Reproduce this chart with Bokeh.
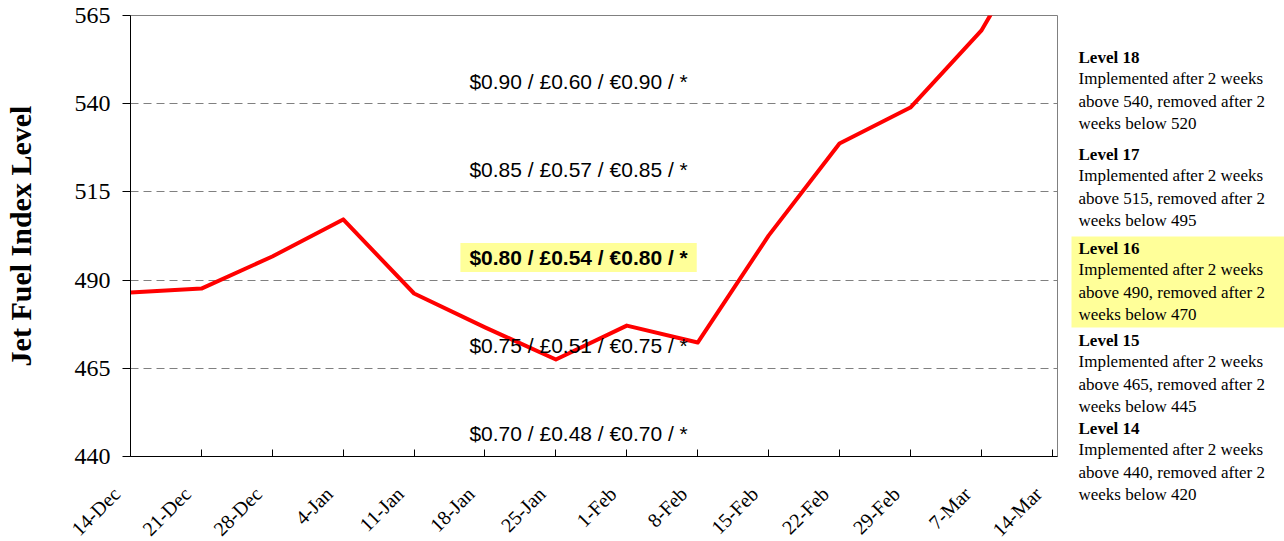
import math
from bokeh.plotting import figure
from bokeh.models import Range1d, FixedTicker, Label
from bokeh.layouts import row, column
from bokeh.core.properties import value
from bokeh.embed import file_html
from bokeh.resources import INLINE

# ---------------- data ----------------
weeks = ["14-Dec", "21-Dec", "28-Dec", "4-Jan", "11-Jan", "18-Jan", "25-Jan",
         "1-Feb", "8-Feb", "15-Feb", "22-Feb", "29-Feb", "7-Mar", "14-Mar"]
index_level = [486.5, 487.6, 496.7, 507.2, 486.2, 476.6, 467.5,
               477.1, 472.3, 502.6, 528.7, 538.9, 560.7, 595.0]
y_ticks = [440, 465, 490, 515, 540, 565]

levels = [18, 17, 16, 15, 14]
above = [540, 515, 490, 465, 440]
below = [520, 495, 470, 445, 420]
usd = ["$0.90", "$0.85", "$0.80", "$0.75", "$0.70"]
gbp = ["£0.60", "£0.57", "£0.54", "£0.51", "£0.48"]
eur = ["€0.90", "€0.85", "€0.80", "€0.75", "€0.70"]
current_level = 16

YELLOW = "#FFFF99"
GREY = "#808080"

PX_PER_WEEK = 927 / 13.075          # frame width / x-span
xs = list(range(len(weeks)))

# ---------------- main chart ----------------
p = figure(width=1060, height=472,
           x_range=Range1d(0, 13.075), y_range=Range1d(440, 565),
           output_backend="svg", toolbar_location=None,
           min_border_left=130, min_border_right=3,
           min_border_top=15, min_border_bottom=16)
p.background_fill_color = "white"
p.outline_line_color = GREY

p.line(x=xs, y=index_level, line_color="#FF0000", line_width=4, line_join="round")

p.xaxis.ticker = FixedTicker(ticks=xs)
p.xaxis.major_label_overrides = {i: "" for i in xs}
p.xaxis.major_label_text_font_size = "1px"
p.xaxis.major_label_standoff = 0
p.xaxis.major_tick_in = 7
p.xaxis.major_tick_out = 0
p.xaxis.axis_line_color = "black"
p.xaxis.major_tick_line_color = "black"

p.yaxis.ticker = FixedTicker(ticks=y_ticks)
p.yaxis.major_label_text_font = "Liberation Serif"
p.yaxis.major_label_text_font_size = "24px"
p.yaxis.major_label_text_color = "black"
p.yaxis.major_tick_in = 0
p.yaxis.major_tick_out = 8
p.yaxis.major_label_standoff = 12
p.yaxis.axis_line_color = "black"
p.yaxis.major_tick_line_color = "black"
p.yaxis.axis_label = "Jet Fuel Index Level"
p.yaxis.axis_label_text_font = "Liberation Serif"
p.yaxis.axis_label_text_font_style = "bold"
p.yaxis.axis_label_text_font_size = "30px"
p.yaxis.axis_label_text_color = "black"
p.yaxis.axis_label_standoff = 35

p.xgrid.visible = False
p.ygrid.ticker = FixedTicker(ticks=[465, 490, 515, 540])
p.ygrid.grid_line_color = GREY
p.ygrid.grid_line_dash = "8 5"
p.ygrid.grid_line_width = 1

for i, lvl in enumerate(levels):
    txt = f"{usd[i]} / {gbp[i]} / {eur[i]} / *"
    is_cur = lvl == current_level
    lab = Label(x=6.32, y=above[i] + 6.4, text=txt,
                text_align="center", text_baseline="middle",
                text_font="Liberation Sans", text_font_size="21px",
                text_color="black",
                text_font_style="bold" if is_cur else "normal")
    if is_cur:
        lab.background_fill_color = YELLOW
        lab.padding = {"left": 9, "right": 9, "top": 3, "bottom": 3}
    p.add_layout(lab)

# ---------------- week labels strip (below the chart) ----------------
lf = figure(width=1060, height=69,
            x_range=Range1d(-130 / PX_PER_WEEK, 930 / PX_PER_WEEK),
            y_range=Range1d(0, 69),
            x_axis_type=None, y_axis_type=None,
            output_backend="svg", toolbar_location=None, min_border=0)
lf.outline_line_color = None
lf.grid.visible = False
lf.frame_align = False
lf.text(x=xs, y=[51] * len(xs), text=weeks, angle=math.pi / 4,
        x_offset=-14, text_align="right", text_baseline="middle",
        text_font=value("Liberation Serif"), text_font_size="20px",
        text_color="black")

# ---------------- side notes ----------------
s = figure(width=224, height=541,
           x_range=Range1d(0, 224), y_range=Range1d(541, 0),
           x_axis_type=None, y_axis_type=None,
           output_backend="svg", toolbar_location=None,
           min_border=0)
s.outline_line_color = None
s.grid.visible = False
s.frame_align = False

header_y = [57, 154, 248, 340, 428]
for i, lvl in enumerate(levels):
    y0 = header_y[i]
    if lvl == current_level:
        s.quad(left=11, right=224, top=y0 - 12, bottom=y0 + 79,
               fill_color=YELLOW, line_color=None)
    s.text(x=[18], y=[y0], text=[f"Level {lvl}"],
           text_font=value("Liberation Serif"), text_font_style="bold",
           text_font_size="17px", text_baseline="middle", text_color="black")
    lines = ["Implemented after 2 weeks",
             f"above {above[i]}, removed after 2",
             f"weeks below {below[i]}"]
    s.text(x=[18, 18, 18], y=[y0 + 21, y0 + 44, y0 + 66], text=lines,
           text_font=value("Liberation Serif"), text_font_size="17px",
           text_baseline="middle", text_color="black")

layout = row(column(p, lf, spacing=0), s, spacing=0)
open("out.html", "w").write(file_html(layout, INLINE))
